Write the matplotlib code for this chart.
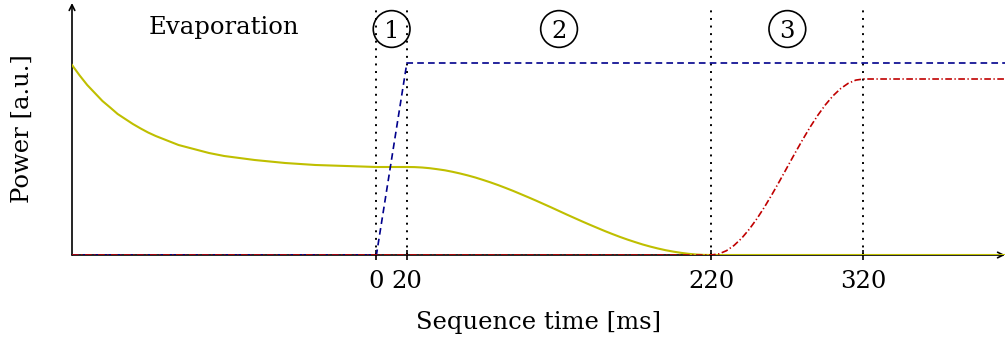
import matplotlib
matplotlib.use("Agg")
import matplotlib.pyplot as plt

# ---- data (power in arbitrary units) ----
t_evap = [-200, -195, -190, -185, -180, -175, -170, -165, -160, -155, -150,
          -145, -140, -130, -120, -110, -100, -90, -80, -70, -60, -50, -40,
          -30, -20, -10, 0]
p_evap = [190, 179.6, 170, 162, 154, 147.6, 141, 136, 131, 126.6, 122.5,
          119, 116, 110, 106, 102, 99, 97, 95, 93.5, 92, 91, 90,
          89.5, 89, 88.5, 88]
t_ramp_down = [20, 25, 30, 35, 40, 45, 50, 55, 60, 65, 70, 75, 80, 85, 90,
               95, 100, 105, 110, 115, 120, 125, 130, 135, 140, 145, 150,
               155, 160, 165, 170, 175, 180, 185, 190, 195, 200, 205, 210,
               215, 220, 413]
p_ramp_down = [88, 87.9, 87.5, 86.8, 85.8, 84.7, 83.2, 81.5, 79.6, 77.5,
               75.1, 72.6, 69.9, 67.0, 64.0, 60.8, 57.6, 54.3, 50.9, 47.5,
               44, 40.5, 37.1, 33.7, 30.4, 27.2, 24.0, 21.0, 18.1, 15.4,
               12.9, 10.5, 8.4, 6.5, 4.8, 3.4, 2.2, 1.2, 0.5, 0.1, 0, 0]
t_yellow = t_evap + t_ramp_down
p_yellow = p_evap + p_ramp_down

t_blue = [-200, 0, 20, 413]
p_blue = [0, 0, 192, 192]

t_red = [-200, 220, 225, 230, 235, 240, 245, 250, 255, 260, 265, 270, 275,
         280, 285, 290, 295, 300, 305, 310, 315, 320, 413]
p_red = [0, 0, 1.1, 4.3, 9.6, 16.8, 25.8, 36.3, 48.0, 60.8, 74.2, 88, 101.8,
         115.2, 128.0, 139.7, 150.2, 159.2, 166.4, 171.7, 174.9, 176, 176]

tick_pos = [0, 20, 220, 320]
tick_labels = ["0", "20", "220", "320"]
stage_pos = [10, 120, 270]
stage_labels = ["1", "2", "3"]

XMIN, XMAX, YMAX = -200, 413, 252

# ---- figure ----
plt.rcParams['font.family'] = ['DejaVu Serif']
FS = 17.5
fig = plt.figure(figsize=(10.08, 3.45), dpi=100)
ax = fig.add_axes([72/1008, 90/345, (1005-72)/1008, (255-3)/345])
ax.set_xlim(XMIN, XMAX)
ax.set_ylim(0, YMAX)
for s in ax.spines.values():
    s.set_visible(False)

yellow = '#bfbf00'
blue = '#00008c'
red = '#c00000'

# dotted vertical markers
for x in tick_pos:
    ax.plot([x, x], [0, 250], color='black', lw=1.4,
            linestyle=(0, (1, 2.9)), solid_capstyle='butt', zorder=1)

ax.plot(t_yellow, p_yellow, color=yellow, lw=1.5, zorder=3)
ax.plot(t_blue, p_blue, color=blue, lw=1.2, dashes=(4, 2.5), zorder=4)
ax.plot(t_red, p_red, color=red, lw=1.2, dashes=(4, 1.5, 0.8, 1.5), zorder=5)

# axes arrows
ax.annotate('', xy=(XMAX, 0), xytext=(XMIN, 0),
            arrowprops=dict(arrowstyle='->', lw=1.2, color='black',
                            shrinkA=0, shrinkB=0), annotation_clip=False, zorder=2)
ax.annotate('', xy=(XMIN, YMAX), xytext=(XMIN, 0),
            arrowprops=dict(arrowstyle='->', lw=1.2, color='black',
                            shrinkA=0, shrinkB=0), annotation_clip=False, zorder=2)

ax.set_xticks(tick_pos)
ax.set_xticklabels(tick_labels, fontsize=FS)
ax.tick_params(axis='x', direction='inout', length=7, width=1.2, pad=7)
ax.set_yticks([])

ax.set_xlabel('Sequence time [ms]', fontsize=FS, labelpad=13)
ax.set_ylabel('Power [a.u.]', fontsize=FS)
ax.yaxis.set_label_coords(-0.041, 0.5)

# stage circles
ax.scatter(stage_pos, [226]*len(stage_pos), s=700, facecolors='none',
           edgecolors='black', linewidths=1.2, zorder=6, clip_on=False)
for x, lab in zip(stage_pos, stage_labels):
    ax.text(x, 226, lab, fontsize=FS, ha='center', va='center_baseline', zorder=7)

ax.text(-100, 221, 'Evaporation', fontsize=FS, ha='center', va='baseline')

fig.savefig('out.png', dpi=100)
